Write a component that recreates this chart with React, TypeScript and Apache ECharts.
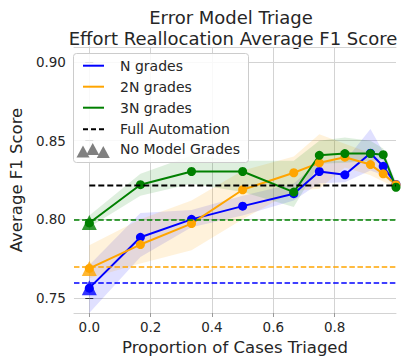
import React, { useEffect, useRef } from "react";
import * as echarts from "echarts";

// ---- data ----
const xValues = [0, 0.1667, 0.3333, 0.5, 0.6667, 0.75, 0.8333, 0.9167, 0.9583, 1.0];

const nGrades = [0.7563, 0.7886, 0.8, 0.8084, 0.8163, 0.8304, 0.8283, 0.842, 0.8337, 0.8222];
const nLower = [0.7405, 0.776, 0.795, 0.8025, 0.812, 0.823, 0.8236, 0.831, 0.828, 0.82];
const nUpper = [0.771, 0.804, 0.806, 0.815, 0.8228, 0.837, 0.837, 0.8574, 0.843, 0.824];

const n2Grades = [0.7688, 0.784, 0.7973, 0.8188, 0.8296, 0.8359, 0.8395, 0.8348, 0.8289, 0.822];
const n2Lower = [0.7625, 0.772, 0.7804, 0.8, 0.818, 0.8194, 0.833, 0.828, 0.824, 0.82];
const n2Upper = [0.7835, 0.8, 0.812, 0.831, 0.84, 0.854, 0.848, 0.842, 0.835, 0.824];

const n3Grades = [0.7977, 0.822, 0.8304, 0.8304, 0.8173, 0.8407, 0.8418, 0.8418, 0.8411, 0.8204];
const n3Lower = [0.795, 0.815, 0.8226, 0.8173, 0.8078, 0.8354, 0.836, 0.837, 0.838, 0.819];
const n3Upper = [0.8025, 0.829, 0.8405, 0.8373, 0.8373, 0.85, 0.852, 0.85, 0.845, 0.822];

const noModelGrades = [0.7565, 0.7688, 0.798];
const fullAutomation = 0.8215;

const seriesNames = ["N grades", "2N grades", "3N grades"];
const yTicks = [0.75, 0.8, 0.85, 0.9];
const xTicks = [0, 0.2, 0.4, 0.6, 0.8];

// ---- styles ----
const colors = ["#0000ff", "#ffa500", "#008000"];
const bandColors = ["rgba(0,0,255,0.12)", "rgba(255,165,0,0.14)", "rgba(0,128,0,0.13)"];
const FONT = "DejaVu Sans";
const TXT = "#262626";
const GRIDC = "#d3d3d3";

const values = [nGrades, n2Grades, n3Grades];
const lowers = [nLower, n2Lower, n3Lower];
const uppers = [nUpper, n2Upper, n3Upper];

export default function App() {
  const ref = useRef<HTMLDivElement>(null);
  useEffect(() => {
    const chart = echarts.init(ref.current!, null, { renderer: "svg" });

    const bandSeries = [0, 1, 2].map((idx) => ({
      type: "custom",
      name: seriesNames[idx] + " band",
      silent: true,
      z: 1,
      data: xValues.map((x, i) => [x, lowers[idx][i], uppers[idx][i]]),
      encode: { x: 0, y: [1, 2] },
      renderItem: (params: any, api: any) => {
        if (params.dataIndex !== 0) return null;
        const pts: number[][] = [];
        for (let i = 0; i < xValues.length; i++) pts.push(api.coord([xValues[i], uppers[idx][i]]));
        for (let i = xValues.length - 1; i >= 0; i--) pts.push(api.coord([xValues[i], lowers[idx][i]]));
        return { type: "polygon", shape: { points: pts }, style: { fill: bandColors[idx] } };
      },
    }));

    const lineSeries = [0, 1, 2].map((idx) => ({
      type: "line",
      name: seriesNames[idx],
      z: 3,
      data: xValues.map((x, i) => [x, values[idx][i]]),
      symbol: "circle",
      symbolSize: 9,
      showSymbol: true,
      lineStyle: { color: colors[idx], width: 2 },
      itemStyle: { color: colors[idx] },
      markLine: {
        silent: true,
        symbol: "none",
        label: { show: false },
        lineStyle: { color: colors[idx], width: 1.5, type: [5.5, 2.6] },
        data: [{ yAxis: noModelGrades[idx] }],
      },
    }));

    const legendRows = [65.7, 86.7, 107.7, 129.3, 149.3];
    const legendLabels = [...seriesNames, "Full Automation", "No Model Grades"];
    const legendGraphics: any[] = [
      {
        type: "rect",
        shape: { x: 73.5, y: 53.5, width: 175, height: 109, r: 3 },
        style: { fill: "rgba(255,255,255,0.85)", stroke: "#cccccc", lineWidth: 1 },
        z: 100,
      },
    ];
    for (let i = 0; i < 3; i++) {
      legendGraphics.push({
        type: "line",
        shape: { x1: 83, y1: legendRows[i], x2: 104, y2: legendRows[i] },
        style: { stroke: colors[i], lineWidth: 2 },
        z: 101,
      });
    }
    legendGraphics.push({
      type: "line",
      shape: { x1: 83, y1: legendRows[3], x2: 105, y2: legendRows[3] },
      style: { stroke: "#000", lineWidth: 2, lineDash: [5, 3] },
      z: 101,
    });
    const tri = (cx: number, base: number, h: number, hw: number) => ({
      type: "polygon",
      shape: { points: [[cx, base - h], [cx - hw, base], [cx + hw, base]] },
      style: { fill: "#808080" },
      z: 101,
    });
    legendGraphics.push(tri(83, 157.5, 12, 6.5));
    legendGraphics.push(tri(92.7, 155, 12, 6.5));
    legendGraphics.push(tri(103.3, 158, 12, 6.5));
    legendLabels.forEach((t, i) => {
      legendGraphics.push({
        type: "text",
        x: 120,
        y: legendRows[i],
        style: { text: t, font: `14px "${FONT}"`, fill: TXT, align: "left", verticalAlign: "middle" },
        z: 101,
      });
    });

    const option: any = {
      animation: false,
      backgroundColor: "#ffffff",
      textStyle: { fontFamily: FONT, color: TXT },
      grid: { left: 66, right: 19, top: 47, bottom: 50, containLabel: false },
      xAxis: [
        {
          type: "value",
          min: -0.05,
          max: 1.0,
          name: "Proportion of Cases Triaged",
          nameLocation: "middle",
          nameGap: 23,
          nameTextStyle: { fontSize: 16.5, color: TXT, fontFamily: FONT },
          axisLine: { show: true, lineStyle: { color: GRIDC, width: 1 } },
          axisTick: { show: true, length: 4, lineStyle: { color: "#999" }, customValues: xTicks },
          axisLabel: {
            customValues: xTicks,
            margin: 7,
            fontSize: 13.5,
            color: TXT,
            fontFamily: FONT,
            formatter: (v: number) => v.toFixed(1),
          },
          splitLine: { show: true, lineStyle: { color: GRIDC, width: 1 } },
        },
        {
          type: "value",
          position: "top",
          min: -0.05,
          max: 1.0,
          axisLine: { show: true, lineStyle: { color: GRIDC, width: 1 } },
          axisTick: { show: false },
          axisLabel: { show: false },
          splitLine: { show: false },
        },
      ],
      yAxis: [
        {
          type: "value",
          min: 0.7405,
          max: 0.9095,
          name: "Average F1 Score",
          nameLocation: "middle",
          nameGap: 43,
          nameTextStyle: { fontSize: 16.5, color: TXT, fontFamily: FONT },
          axisLine: { show: true, lineStyle: { color: GRIDC, width: 1 } },
          axisTick: { show: true, length: 4, lineStyle: { color: "#333" }, customValues: yTicks },
          axisLabel: {
            customValues: yTicks,
            margin: 8,
            fontSize: 13.5,
            color: TXT,
            fontFamily: FONT,
            formatter: (v: number) => v.toFixed(2),
          },
          splitLine: { show: true, lineStyle: { color: GRIDC, width: 1 } },
        },
        {
          type: "value",
          position: "right",
          min: 0.7405,
          max: 0.9095,
          axisLine: { show: true, lineStyle: { color: GRIDC, width: 1 } },
          axisTick: { show: true, length: 4, lineStyle: { color: "#333" }, customValues: yTicks },
          axisLabel: { show: false },
          splitLine: { show: false },
        },
      ],
      series: [
        ...bandSeries,
        ...lineSeries,
        {
          type: "line",
          name: "Full Automation",
          z: 4,
          data: [
            [0, fullAutomation],
            [1, fullAutomation],
          ],
          symbol: "none",
          lineStyle: { color: "#000", width: 2, type: [6, 3] },
        },
        {
          type: "scatter",
          name: "No Model Grades",
          z: 5,
          symbol: "triangle",
          symbolSize: [15, 15],
          data: noModelGrades.map((v, i) => ({ value: [0, v], itemStyle: { color: colors[i] } })),
        },
      ],
      graphic: [
        {
          type: "text",
          x: 231,
          y: 17,
          style: { text: "Error Model Triage", font: `18px "${FONT}"`, fill: TXT, align: "center", verticalAlign: "middle" },
        },
        {
          type: "text",
          x: 233,
          y: 38.5,
          style: {
            text: "Effort Reallocation Average F1 Score",
            font: `18px "${FONT}"`,
            fill: TXT,
            align: "center",
            verticalAlign: "middle",
          },
        },
        ...legendGraphics,
      ],
    };
    chart.setOption(option);
    return () => chart.dispose();
  }, []);
  return (
    <div
      ref={ref}
      style={{ position: "fixed", left: 0, top: 0, width: 415, height: 363, background: "#fff" }}
    />
  );
}
